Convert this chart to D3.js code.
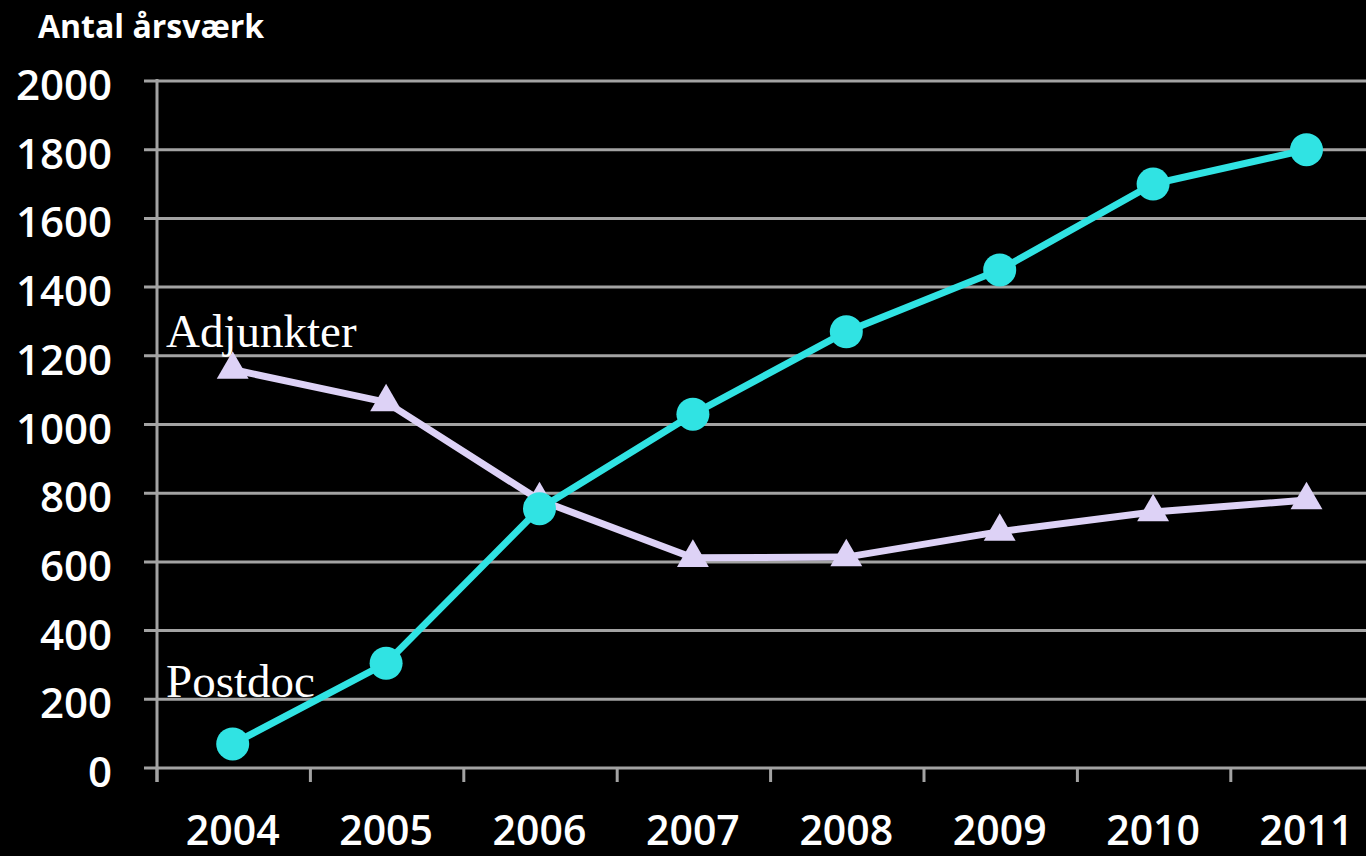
<!DOCTYPE html>
<html>
<head>
<meta charset="utf-8">
<script src="https://cdn.jsdelivr.net/npm/d3@7"></script>
<style>
  body { margin: 0; background: #000; }
  svg { display: block; }
</style>
</head>
<body>
<script>
const years = ['2004','2005','2006','2007','2008','2009','2010','2011']
const postdoc = [70, 305, 755, 1030, 1270, 1450, 1700, 1800]
const adjunkter = [1160, 1065, 780, 612, 614, 688, 745, 780]
const yTicks = [0,200,400,600,800,1000,1200,1400,1600,1800,2000]

const W = 1366, H = 856
const svg = d3.select('body').append('svg').attr('width', W).attr('height', H)
svg.append('rect').attr('width', W).attr('height', H).attr('fill', '#000')

const x = d3.scaleBand().domain(years).range([156, 156 + 8 * 153.4])
const y = d3.scaleLinear().domain([0, 2000]).range([768, 81])
const axisCol = '#a3a3a3'

// gridlines
svg.append('g').selectAll('line')
  .data(yTicks).enter().append('line')
  .attr('x1', 144).attr('x2', W)
  .attr('y1', d => y(d)).attr('y2', d => y(d))
  .attr('stroke', axisCol).attr('stroke-width', 3)

// y axis line
svg.append('line')
  .attr('x1', 157).attr('x2', 157).attr('y1', y(2000) - 2).attr('y2', 782)
  .attr('stroke', axisCol).attr('stroke-width', 3)

// x ticks between bands
svg.append('g').selectAll('line')
  .data(years).enter().append('line')
  .attr('x1', d => x(d) + 1).attr('x2', d => x(d) + 1)
  .attr('y1', 768).attr('y2', 782)
  .attr('stroke', axisCol).attr('stroke-width', 3)

// y labels
svg.append('g').selectAll('text')
  .data(yTicks).enter().append('text')
  .attr('x', 112).attr('y', d => y(d) + 19)
  .attr('text-anchor', 'end')
  .attr('fill', '#fff')
  .style('font', '600 42px "Open Sans", sans-serif')
  .text(d => d)

// x labels
svg.append('g').selectAll('text')
  .data(years).enter().append('text')
  .attr('x', d => x(d) + x.bandwidth() / 2).attr('y', 845)
  .attr('text-anchor', 'middle')
  .attr('fill', '#fff')
  .style('font', '600 41px "Open Sans", sans-serif')
  .text(d => d)

svg.append('text')
  .attr('x', 38).attr('y', 38)
  .attr('fill', '#fff')
  .style('font', '700 32px "Open Sans", sans-serif')
  .text('Antal årsværk')

const cx = d => x(d) + x.bandwidth() / 2
const line = d3.line().x(d => cx(d[0])).y(d => y(d[1]))

const adjData = years.map((yr, i) => [yr, adjunkter[i]])
const postData = years.map((yr, i) => [yr, postdoc[i]])

const lav = '#ddd2f6', cyan = '#30e3e3'

svg.append('path').datum(adjData)
  .attr('d', line).attr('fill', 'none')
  .attr('stroke', lav).attr('stroke-width', 7)
svg.append('g').selectAll('path')
  .data(adjData).enter().append('path')
  .attr('d', d3.symbol().type(d3.symbolTriangle).size(440))
  .attr('transform', d => `translate(${cx(d[0])},${y(d[1])})`)
  .attr('fill', lav)

svg.append('path').datum(postData)
  .attr('d', line).attr('fill', 'none')
  .attr('stroke', cyan).attr('stroke-width', 7)
svg.append('g').selectAll('circle')
  .data(postData).enter().append('circle')
  .attr('cx', d => cx(d[0])).attr('cy', d => y(d[1]))
  .attr('r', 16.5).attr('fill', cyan)

svg.append('text')
  .attr('x', 166).attr('y', 347)
  .attr('fill', '#fff')
  .style('font', '47px "Liberation Serif", serif')
  .text('Adjunkter')
svg.append('text')
  .attr('x', 166).attr('y', 697)
  .attr('fill', '#fff')
  .style('font', '47px "Liberation Serif", serif')
  .text('Postdoc')
</script>
</body>
</html>
